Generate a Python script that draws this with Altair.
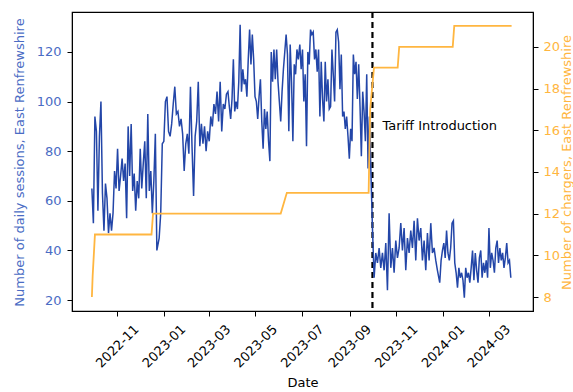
import altair as alt
import pandas as pd

BLUE = "#2346a8"
BLUE_TEXT = "#4a6cc4"
ORANGE = "#ffb640"
FONT = "DejaVu Sans"
FS = 13

# Daily sessions, East Renfrewshire (one value about every other day)
sessions_run1 = [65, 51, 94, 88, 56, 86, 100, 63, 48, 67, 61, 47, 55, 48, 55, 72, 65, 81, 64, 70,
                 77, 68, 75, 53, 90, 70, 91, 64, 71, 56, 68, 61, 81, 65, 75, 84, 61, 95, 64, 72,
                 55, 68, 87, 40]
sessions_run2 = [45, 55, 83, 84, 100, 102, 88, 86, 91, 99, 106, 95, 96, 90, 93, 87, 72, 83, 87, 79,
                 106, 82, 62, 86, 92, 108, 82, 91, 83, 90, 80, 88, 84, 94, 90, 99, 95, 104, 92, 108,
                 88, 99, 97, 103]
sessions_run3 = [104, 98, 93, 101, 117, 96, 100, 97, 108, 131, 104, 113, 107, 109, 102, 117, 129, 115,
                 127, 117, 102, 100, 93, 102, 109, 92, 81, 97, 89, 96, 84, 76, 120, 108, 121, 109,
                 121, 108, 100, 92, 104, 113, 120, 127, 119, 88, 123, 108, 84, 115, 111, 121, 117]
sessions_run4 = [123, 113, 121, 100, 111, 82, 120, 115, 129, 127, 128, 117, 121, 112, 121, 94, 116,
                 101, 92, 116, 100, 109, 97, 98, 121, 111, 100, 128, 129, 124, 105, 119, 94, 96, 89,
                 94, 86, 77, 89, 84, 119, 111, 116, 101, 115, 98, 78, 104, 96, 84, 111, 73, 94]
sessions_run5 = [49, 29, 39, 35, 41, 33, 39, 32, 43, 24, 55, 33, 41, 31, 44, 37, 41, 51, 40, 49,
                 32, 45, 39, 48, 41, 52, 36, 53, 44, 49, 36, 44, 32, 47, 36, 51, 39, 41, 36, 32]
sessions_run6 = [27, 36, 40, 43, 37, 48, 39, 36, 41, 51, 52, 35, 31, 25, 33, 29, 31, 28, 21, 33,
                 29, 31, 27, 33, 40, 28, 39, 32, 27, 37, 40, 29, 35, 31, 36, 29, 49, 33, 39, 36,
                 31, 41, 44, 35, 41, 36, 39, 33, 37, 43, 35, 36, 29]
run_spans = [("2022-09-29", "2022-12-23"), ("2022-12-26", "2023-03-24"),
             ("2023-03-26", "2023-06-26"), ("2023-06-28", "2023-09-27"),
             ("2023-10-01", "2023-12-25"), ("2023-12-28", "2024-03-30")]
runs = [sessions_run1, sessions_run2, sessions_run3, sessions_run4, sessions_run5, sessions_run6]

# Number of chargers: value at the start and end of each plateau
charger_dates = ["2022-09-29", "2022-09-30", "2022-10-03", "2022-12-16", "2022-12-18",
                 "2023-06-03", "2023-06-11", "2023-09-26", "2023-09-28", "2023-10-03",
                 "2023-11-03", "2023-11-05", "2024-01-14", "2024-01-16", "2024-03-31"]
charger_counts = [8, 9, 11, 11, 12, 12, 13, 13, 17, 19, 19, 20, 20, 21, 21]

tariff_date = "2023-10-01"
tariff_label = "Tariff Introduction"
tariff_label_at = ("2023-10-14", 16)

x_tick_labels = ["2022-11", "2023-01", "2023-03", "2023-05", "2023-07",
                 "2023-09", "2023-11", "2024-01", "2024-03"]
left_ticks = [20, 40, 60, 80, 100, 120]
right_ticks = [8, 10, 12, 14, 16, 18, 20]
x_domain = ("2022-09-03", "2024-04-28")
left_domain = [15.6, 136.1]
right_domain = [7.33, 21.67]


def dt(s):
    parts = [int(p) for p in s.split("-")]
    day = parts[2] if len(parts) > 2 else 1
    return alt.DateTime(year=parts[0], month=parts[1], date=day, utc=True)


frames = []
for (start, end), vals in zip(run_spans, runs):
    frames.append(pd.DataFrame({
        "date": pd.date_range(start, end, periods=len(vals)).tz_localize("UTC"),
        "sessions": vals,
    }))
sessions_df = pd.concat(frames, ignore_index=True)

chargers_df = pd.DataFrame({
    "date": pd.to_datetime(charger_dates).tz_localize("UTC"),
    "chargers": charger_counts,
})

label_df = pd.DataFrame({"text": [tariff_label]})

x_enc = alt.X(
    "date:T",
    title="Date",
    scale=alt.Scale(type="utc", domain=[dt(x_domain[0]), dt(x_domain[1])]),
    axis=alt.Axis(
        values=[dt(s) for s in x_tick_labels],
        labelExpr="utcFormat(datum.value, '%Y-%m')",
        labelAngle=-45, labelAlign="center", labelBaseline="middle",
        labelPadding=30, titleY=71, titleBaseline="middle",
    ),
)

rule = alt.Chart(label_df).mark_rule(
    color="black", strokeWidth=2.2, strokeDash=[6, 4]
).encode(x=alt.X(datum=dt(tariff_date)))

sessions_line = alt.Chart(sessions_df).mark_line(color=BLUE, strokeWidth=1.5).encode(
    x=x_enc,
    y=alt.Y(
        "sessions:Q",
        title="Number of daily sessions, East Renfrewshire",
        scale=alt.Scale(domain=left_domain, nice=False, zero=False),
        axis=alt.Axis(
            orient="left", values=left_ticks, labelColor=BLUE_TEXT, titleColor=BLUE_TEXT,
            labelPadding=6, titleAngle=-90, titleX=-53, titleY=150,
            titleAlign="center", titleBaseline="middle",
        ),
    ),
)

right_axis = alt.Axis(
    orient="right", values=right_ticks, labelColor=ORANGE, titleColor=ORANGE,
    labelPadding=5, titleAngle=-90, titleX=33, titleY=150,
    titleAlign="center", titleBaseline="middle",
    title="Number of chargers, East Renfrewshire",
)

chargers_line = alt.Chart(chargers_df).mark_line(color=ORANGE, strokeWidth=1.8).encode(
    x=alt.X("date:T"),
    y=alt.Y(
        "chargers:Q",
        title="Number of chargers, East Renfrewshire",
        scale=alt.Scale(domain=right_domain, nice=False, zero=False),
        axis=right_axis,
    ),
)

label = alt.Chart(label_df).mark_text(
    align="left", baseline="alphabetic",
    font=FONT, fontSize=FS, color="black",
).encode(
    text="text:N",
    x=alt.X(datum=dt(tariff_label_at[0])),
    y=alt.Y(datum=tariff_label_at[1], axis=right_axis,
            title="Number of chargers, East Renfrewshire"),
)

chart = alt.layer(
    alt.layer(rule, sessions_line),
    alt.layer(chargers_line, label),
).resolve_scale(y="independent").properties(
    width=461, height=299,
    padding={"left": 72, "top": 12, "right": 40, "bottom": 81},
    autosize=alt.AutoSizeParams(type="none"),
).configure_view(
    stroke="black", strokeWidth=1.2
).configure_axis(
    grid=False, domainColor="black", tickColor="black", tickSize=5,
    labelFont=FONT, titleFont=FONT, labelFontSize=FS, titleFontSize=FS,
    titleFontWeight="normal", labelColor="black", titleColor="black",
    labelOverlap=False, labelFlush=False,
)

chart.save("out.html", embed_options={"renderer": "svg", "actions": False})
